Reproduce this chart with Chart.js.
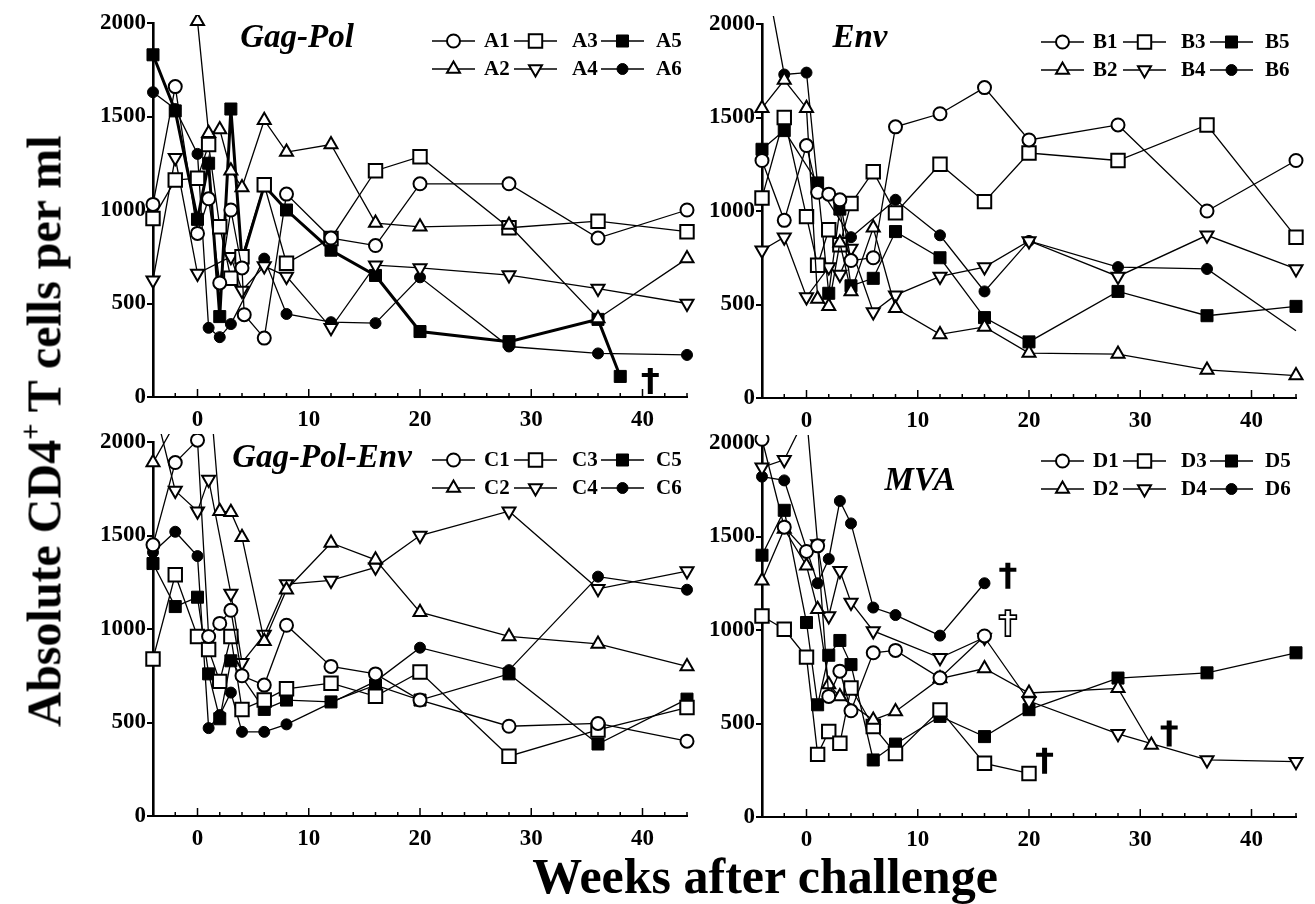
<!DOCTYPE html>
<html>
<head>
<meta charset="utf-8">
<script src="https://cdn.jsdelivr.net/npm/chart.js@4.4.1/dist/chart.umd.min.js"></script>
<style>
  body { margin: 0; background: #fff; }
  #wrap { position: relative; width: 1315px; height: 904px; overflow: hidden; background: #fff; }
  #wrap canvas { position: absolute; }
  .ytitle { position: absolute; left: 44px; top: 431px; transform: translate(-50%, -50%) rotate(-90deg);
            font: bold 48px "Liberation Serif", serif; white-space: nowrap; }
  .ytitle sup { font-size: 60%; vertical-align: 0.7em; line-height: 0; }
  .xtitle { position: absolute; left: 765px; top: 876px; transform: translate(-50%, -50%);
            font: bold 50px "Liberation Serif", serif; white-space: nowrap; }
</style>
</head>
<body>
<div id="wrap">
  <canvas id="panelA" width="649" height="449" style="left:58px;top:-7px"></canvas>
  <canvas id="panelB" width="649" height="449" style="left:667px;top:-6px"></canvas>
  <canvas id="panelC" width="649" height="449" style="left:58px;top:412px"></canvas>
  <canvas id="panelD" width="649" height="449" style="left:667px;top:413px"></canvas>
  <div class="ytitle">Absolute CD4<sup>+</sup> T cells per ml</div>
  <div class="xtitle">Weeks after challenge</div>
</div>
<script>
// tick labels
var weekTicks = [0, 10, 20, 30, 40];
var cellTicks = [0, 500, 1000, 1500, 2000];

// Gag-Pol
var weeksA = [-4, -2, 0, 1, 2, 3, 4, 4.2, 6, 8, 12, 16, 20, 28, 36, 38, 44];
var A1 = [1030, 1660, 875, 1060, 610, 1000, 690, 440, 315, 1085, 850, 810, 1140, 1140, 850, null, 1000];
var A2 = [null, null, 2010, 1410, 1430, 1210, 1120, null, 1480, 1310, 1350, 930, 910, 920, 420, null, 740];
var A3 = [955, 1160, 1170, 1350, 910, 635, 750, null, 1135, 715, 848, 1210, 1285, 905, 940, null, 884];
var A4 = [625, 1280, 660, null, null, 750, 570, null, 700, 645, 370, 705, 690, 652, 580, null, 500];
var A5 = [1830, 1530, 950, 1250, 430, 1540, 730, null, 1130, 1000, 785, 650, 350, 296, 415, 110, null];
var A6 = [1630, 1540, 1300, 370, 320, 390, null, null, 740, 444, 400, 395, 640, 270, 233, null, 225];
var deathsA = [{ week: 40.7, cd4: 85 }];

// Env
var weeksB = [-4, -2, 0, 1, 2, 3, 4, 6, 8, 12, 16, 20, 28, 36, 44];
var B1 = [1270, 950, 1350, 1100, 1090, 1060, 735, 750, 1450, 1520, 1660, 1380, 1460, 1000, 1270];
var B2 = [1550, 1700, 1550, 530, 490, 830, 570, 910, 480, 340, 380, 240, 235, 150, 120];
var B3 = [1070, 1500, 970, 710, 900, 820, 1040, 1210, 990, 1250, 1050, 1310, 1270, 1460, 860];
var B4 = [790, 860, 540, null, 700, 660, 800, 460, 550, 650, 700, 840, 650, 870, 690];
var B5 = [1330, 1430, null, 1150, 560, 1010, 600, 640, 890, 750, 430, 300, 570, 440, 490];
var B6 = [2370, 1730, 1740, 1140, null, null, 860, null, 1060, 870, 570, 840, 700, 690, 360];
var deathsB = [];

// Gag-Pol-Env
var weeksC = [-4, -2, 0, 1, 2, 3, 4, 6, 8, 12, 16, 20, 28, 36, 44];
var C1 = [1450, 1890, 2010, 960, 1030, 1100, 750, 700, 1020, 800, 760, 620, 480, 495, 400];
var C2 = [1890, 2100, 2250, 2350, 1630, 1625, 1490, 935, 1210, 1460, 1370, 1090, 960, 920, 800];
var C3 = [840, 1290, 960, 890, 720, 960, 570, 620, 680, 710, 640, 770, 320, 460, 580];
var C4 = [2220, 1740, 1630, 1800, null, 1190, 820, 970, 1240, 1260, 1330, 1500, 1630, 1215, 1310];
var C5 = [1350, 1120, 1170, 760, 520, 830, null, 570, 620, 610, 700, 620, 760, 385, 625];
var C6 = [1410, 1520, 1390, 470, 540, 660, 450, 450, 490, null, 720, 900, 780, 1280, 1210];
var deathsC = [];

// MVA
var weeksD = [-4, -2, 0, 1, 2, 3, 4, 6, 8, 12, 16, 20, 28, 31, 36, 44];
var D1 = [2020, 1550, 1420, 1450, 645, 780, 568, 878, 891, 744, 968, null, null, null, null, null];
var D2 = [1263, 1540, 1344, 1111, 708, 645, null, 519, 564, 740, 794, 663, 688, 385, null, null];
var D3 = [1075, 1004, 855, 335, 457, 394, 690, 484, 340, 573, 287, 233, null, null, null, null];
var D4 = [1870, 1910, 2150, 1460, 1075, 1317, 1147, 995, null, 851, 960, 620, 445, null, 305, 296];
var D5 = [1400, 1640, 1040, 600, 865, 944, 815, 305, 390, 538, 430, 574, 743, null, 771, 878];
var D6 = [1820, 1800, null, 1250, 1380, 1690, 1570, 1120, 1080, 970, 1250, null, null, null, null, null];
var deathsD = [{ week: 18.1, cd4: 1290 }, { week: 18.1, cd4: 1037, hollow: true },
               { week: 21.4, cd4: 301 }, { week: 32.6, cd4: 446 }];

var SERIF = '"Liberation Serif", "Times New Roman", serif';
Chart.defaults.font.family = SERIF;
Chart.defaults.color = '#000';

// marker for animal 1..6 of each group
var markers = [
  { style: 'circle', rot: 0, fill: false, r: 6.5 },
  { style: 'triangle', rot: 0, fill: false, r: 7.5 },
  { style: 'rect', rot: 0, fill: false, r: 9.5 },
  { style: 'triangle', rot: 180, fill: false, r: 7.5 },
  { style: 'rect', rot: 0, fill: true, r: 8.5 },
  { style: 'circle', rot: 0, fill: true, r: 5.5 }
];

function drawMarker(ctx, m, x, y) {
  ctx.beginPath();
  if (m.style == 'circle') {
    ctx.arc(x, y, m.r, 0, Math.PI * 2);
  } else if (m.style == 'rect') {
    var s = m.r * Math.SQRT1_2;
    ctx.rect(x - s, y - s, 2 * s, 2 * s);
  } else {
    var d = m.rot ? -1 : 1;
    ctx.moveTo(x, y - d * m.r);
    ctx.lineTo(x + m.r * 0.866, y + d * m.r * 0.5);
    ctx.lineTo(x - m.r * 0.866, y + d * m.r * 0.5);
    ctx.closePath();
  }
  ctx.fillStyle = m.fill ? '#000' : '#fff';
  ctx.fill();
  ctx.lineWidth = m.fill ? 1 : 2;
  ctx.strokeStyle = '#000';
  ctx.stroke();
}

function drawDagger(ctx, x, y, hollow) {
  // little cross, 17 wide and 26 tall, centered on x,y
  ctx.beginPath();
  ctx.moveTo(x - 2.5, y - 13);
  ctx.lineTo(x + 2.5, y - 13);
  ctx.lineTo(x + 2.5, y - 8);
  ctx.lineTo(x + 8.5, y - 8);
  ctx.lineTo(x + 8.5, y - 4);
  ctx.lineTo(x + 2.5, y - 4);
  ctx.lineTo(x + 2.5, y + 13);
  ctx.lineTo(x - 2.5, y + 13);
  ctx.lineTo(x - 2.5, y - 4);
  ctx.lineTo(x - 8.5, y - 4);
  ctx.lineTo(x - 8.5, y - 8);
  ctx.lineTo(x - 2.5, y - 8);
  ctx.closePath();
  if (hollow) {
    ctx.fillStyle = '#fff'; ctx.fill();
    ctx.lineWidth = 1.6; ctx.strokeStyle = '#000'; ctx.stroke();
  } else {
    ctx.fillStyle = '#000'; ctx.fill();
  }
}

// ticks inside the x axis, titles, legend and daggers
var panelDecor = {
  id: 'panelDecor',
  afterDatasetsDraw: function (chart, args, opts) {
    var ctx = chart.ctx, area = chart.chartArea;
    var x = chart.scales.x, y = chart.scales.y;
    ctx.save();

    ctx.strokeStyle = '#000';
    ctx.lineWidth = 1.5;
    for (var w = -2; w <= 44; w += 2) {
      var px = x.getPixelForValue(w);
      var len = (w % 10 === 0) ? 8 : 4;
      ctx.beginPath();
      ctx.moveTo(px, area.bottom);
      ctx.lineTo(px, area.bottom - len);
      ctx.stroke();
    }

    ctx.fillStyle = '#000';
    ctx.font = 'italic bold 33px ' + SERIF;
    ctx.textAlign = 'center';
    ctx.textBaseline = 'alphabetic';
    ctx.fillText(opts.title, area.left + opts.titleX, area.top + opts.titleY);

    var lineX = [279, 361, 448], textX = [331, 419, 503], rowY = [18, 46];
    ctx.font = 'bold 21px ' + SERIF;
    ctx.textAlign = 'left';
    ctx.textBaseline = 'middle';
    chart.data.datasets.forEach(function (ds, i) {
      var col = Math.floor(i / 2), row = i % 2;
      var lx = area.left + lineX[col], ly = area.top + rowY[row];
      ctx.strokeStyle = '#000';
      ctx.lineWidth = 1.6;
      ctx.beginPath();
      ctx.moveTo(lx, ly);
      ctx.lineTo(lx + 43, ly);
      ctx.stroke();
      drawMarker(ctx, markers[i], lx + 21.5, ly);
      ctx.fillStyle = '#000';
      ctx.fillText(ds.label, area.left + textX[col], ly + 1);
    });

    (opts.deaths || []).forEach(function (d) {
      drawDagger(ctx, x.getPixelForValue(d.week), y.getPixelForValue(d.cd4), d.hollow);
    });
    ctx.restore();
  }
};

function makePanel(id, weeks, series, names, title, titleX, titleY, deaths, opts) {
  opts = opts || {};
  var datasets = series.map(function (vals, i) {
    var m = markers[i];
    var pts = weeks.map(function (w, k) { return { x: w, y: vals[k] }; });
    var last = -1;
    vals.forEach(function (v, k) { if (v !== null) last = k; });
    return {
      label: names[i],
      data: pts,
      borderColor: '#000',
      borderWidth: (opts.thick === i) ? 3 : 1.3,
      pointStyle: m.style,
      pointRotation: m.rot,
      pointRadius: function (c) { return (opts.bareEnd === i && c.dataIndex === last) ? 0 : m.r; },
      pointBackgroundColor: m.fill ? '#000' : '#fff',
      pointBorderColor: '#000',
      pointBorderWidth: m.fill ? 1 : 2,
      spanGaps: true,
      tension: 0,
      clip: { left: 12, top: 8, right: 12, bottom: 12 }
    };
  });

  return new Chart(document.getElementById(id), {
    type: 'line',
    data: { datasets: datasets },
    plugins: [panelDecor],
    options: {
      responsive: false,
      animation: false,
      events: [],
      layout: { padding: { top: 30, right: 20, left: 0, bottom: 0 } },
      plugins: {
        legend: { display: false },
        tooltip: { enabled: false },
        panelDecor: { title: title, titleX: titleX, titleY: titleY, deaths: deaths }
      },
      scales: {
        x: {
          type: 'linear', min: -4, max: 44,
          afterBuildTicks: function (s) { s.ticks = weekTicks.map(function (v) { return { value: v }; }); },
          afterFit: function (s) { s.height = 45; },
          grid: { display: false, drawTicks: false },
          border: { display: true, color: '#000', width: 2 },
          ticks: { padding: 9, font: { size: 23, weight: 'bold' }, color: '#000',
                   maxRotation: 0, callback: function (v) { return String(v); } }
        },
        y: {
          type: 'linear', min: 0, max: 2000,
          afterBuildTicks: function (s) { s.ticks = cellTicks.map(function (v) { return { value: v }; }); },
          afterFit: function (s) { s.width = 95; },
          grid: { display: true, drawOnChartArea: false, drawTicks: true, tickLength: 6,
                  color: '#000', lineWidth: 2 },
          border: { display: true, color: '#000', width: 2.6 },
          ticks: { padding: 1, font: { size: 23, weight: 'bold' }, color: '#000',
                   callback: function (v) { return String(v); } }
        }
      }
    }
  });
}

makePanel('panelA', weeksA, [A1, A2, A3, A4, A5, A6], ['A1', 'A2', 'A3', 'A4', 'A5', 'A6'],
          'Gag-Pol', 144, 24, deathsA, { thick: 4 });
makePanel('panelB', weeksB, [B1, B2, B3, B4, B5, B6], ['B1', 'B2', 'B3', 'B4', 'B5', 'B6'],
          'Env', 98, 23, deathsB, { bareEnd: 5 });
makePanel('panelC', weeksC, [C1, C2, C3, C4, C5, C6], ['C1', 'C2', 'C3', 'C4', 'C5', 'C6'],
          'Gag-Pol-Env', 169, 25, deathsC);
makePanel('panelD', weeksD, [D1, D2, D3, D4, D5, D6], ['D1', 'D2', 'D3', 'D4', 'D5', 'D6'],
          'MVA', 158, 47, deathsD);
</script>
</body>
</html>
